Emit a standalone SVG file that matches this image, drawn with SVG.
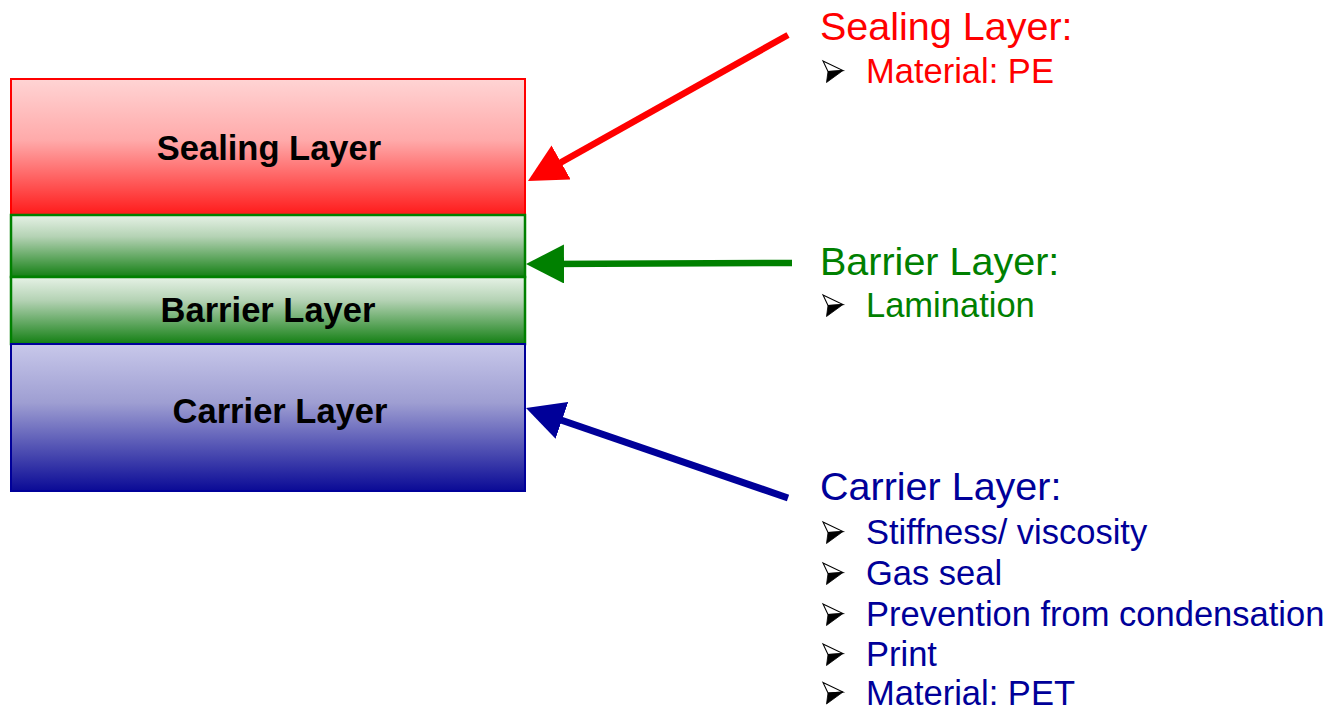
<svg xmlns="http://www.w3.org/2000/svg" width="1330" height="712" viewBox="0 0 1330 712">
<defs>
<linearGradient id="gRed" x1="0" y1="0" x2="0" y2="1">
<stop offset="0" stop-color="#ffd4d4"/><stop offset="0.45" stop-color="#ffaaaa"/><stop offset="1" stop-color="#ff1a1a"/>
</linearGradient>
<linearGradient id="gGreen" x1="0" y1="0" x2="0" y2="1">
<stop offset="0" stop-color="#e6f2e6"/><stop offset="0.35" stop-color="#b4d2b4"/><stop offset="1" stop-color="#137f13"/>
</linearGradient>
<linearGradient id="gBlue" x1="0" y1="0" x2="0" y2="1">
<stop offset="0" stop-color="#c8c8ea"/><stop offset="0.4" stop-color="#9e9ed2"/><stop offset="1" stop-color="#0a0a96"/>
</linearGradient>
<marker id="mRed" markerUnits="userSpaceOnUse" markerWidth="40" markerHeight="40" refX="18" refY="19.5" orient="auto"><path d="M0,0 L38,19.5 L0,39 Z" fill="#ff0000"/></marker>
<marker id="mGreen" markerUnits="userSpaceOnUse" markerWidth="40" markerHeight="40" refX="18" refY="19.5" orient="auto"><path d="M0,0 L38,19.5 L0,39 Z" fill="#008000"/></marker>
<marker id="mBlue" markerUnits="userSpaceOnUse" markerWidth="40" markerHeight="40" refX="18" refY="19.5" orient="auto"><path d="M0,0 L38,19.5 L0,39 Z" fill="#000099"/></marker>
<g id="bullet">
<path d="M0,0 L20,9.5 L5,10.5 Z" fill="#ffffff" stroke="#000000" stroke-width="1.1" stroke-linejoin="miter"/>
<path d="M5,10.5 L20,9.5 L3.5,21.5 Z" fill="#000000" stroke="#000000" stroke-width="0.8"/>
</g>
</defs>
<style>
.layerlbl{font-family:"Liberation Sans",Arial,sans-serif;font-weight:bold;font-size:34.5px;fill:#000;text-anchor:middle}
.head{font-family:"Liberation Sans",Arial,sans-serif;font-size:39.5px}
.item{font-family:"Liberation Sans",Arial,sans-serif;font-size:34.5px}
.red{fill:#ff0000}.green{fill:#008000}.blue{fill:#000099}
</style>
<rect width="1330" height="712" fill="#ffffff"/>
<g id="sealing-layer">
<rect x="11" y="79" width="514" height="136" fill="url(#gRed)" stroke="#ff0000" stroke-width="2"/>
<text class="layerlbl" x="269" y="160">Sealing Layer</text>
</g>
<g id="barrier-layer">
<rect x="11" y="215" width="514" height="62" fill="url(#gGreen)" stroke="#008000" stroke-width="2.5"/>
<rect x="11" y="277" width="514" height="67" fill="url(#gGreen)" stroke="#008000" stroke-width="2.5"/>
<text class="layerlbl" x="268" y="322">Barrier Layer</text>
</g>
<g id="carrier-layer">
<rect x="11" y="344" width="514" height="147" fill="url(#gBlue)" stroke="#000099" stroke-width="2"/>
<text class="layerlbl" x="280" y="423">Carrier Layer</text>
</g>
<g id="connectors" fill="none">
<line x1="788" y1="35" x2="545.4" y2="171.2" stroke="#ff0000" stroke-width="6.5" marker-end="url(#mRed)"/>
<line x1="792" y1="263" x2="546" y2="264" stroke="#008000" stroke-width="6.5" marker-end="url(#mGreen)"/>
<line x1="788" y1="498" x2="544.9" y2="414.5" stroke="#000099" stroke-width="7" marker-end="url(#mBlue)"/>
</g>
<g id="sealing-info">
<text class="head red" x="820" y="40">Sealing Layer:</text>
<use href="#bullet" x="823" y="61"/>
<text class="item red" x="866" y="83">Material: PE</text>
</g>
<g id="barrier-info">
<text class="head green" x="820" y="275">Barrier Layer:</text>
<use href="#bullet" x="823" y="295"/>
<text class="item green" x="866" y="317">Lamination</text>
</g>
<g id="carrier-info">
<text class="head blue" x="820" y="500">Carrier Layer:</text>
<use href="#bullet" x="823" y="522"/>
<text class="item blue" x="866" y="544">Stiffness/ viscosity</text>
<use href="#bullet" x="823" y="563"/>
<text class="item blue" x="866" y="585">Gas seal</text>
<use href="#bullet" x="823" y="604"/>
<text class="item blue" x="866" y="626">Prevention from condensation</text>
<use href="#bullet" x="823" y="644"/>
<text class="item blue" x="866" y="666">Print</text>
<use href="#bullet" x="823" y="682.5"/>
<text class="item blue" x="866" y="704.5">Material: PET</text>
</g>
</svg>
